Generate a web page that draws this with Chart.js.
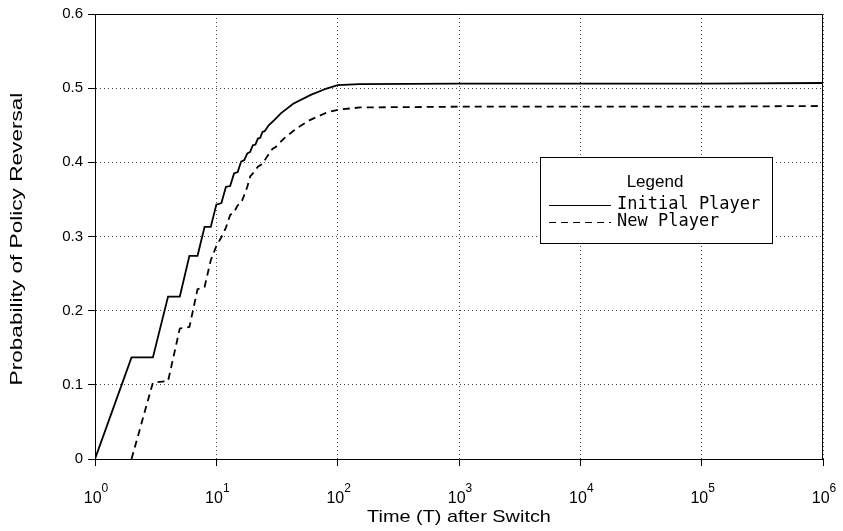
<!DOCTYPE html>
<html>
<head>
<meta charset="utf-8">
<script src="https://cdn.jsdelivr.net/npm/chart.js@4.4.0/dist/chart.umd.min.js"></script>
<style>
  html, body { margin: 0; padding: 0; background: #fff; }
</style>
</head>
<body>
<canvas id="chart" width="843" height="531"></canvas>
<script>
// values
const initialTime = [1, 2, 3, 4, 5, 6, 7, 8, 9, 10, 11, 12, 13, 14, 15, 16, 17, 18, 19, 20, 21, 22, 23, 24, 25, 27, 30, 34, 43, 60, 81, 100, 150, 1000, 10000, 100000, 1000000];
const initialProb = [0, 0.137, 0.137, 0.219, 0.219, 0.274, 0.274, 0.313, 0.313, 0.343, 0.345, 0.367, 0.368, 0.385, 0.387, 0.401, 0.403, 0.412, 0.414, 0.423, 0.424, 0.432, 0.433, 0.441, 0.442, 0.450, 0.457, 0.466, 0.479, 0.491, 0.4995, 0.504, 0.5055, 0.506, 0.506, 0.506, 0.507];

const newTime = [2, 3, 4, 5, 6, 7, 8, 9, 10, 11, 12, 13, 14, 15, 16, 17, 18, 19, 20, 22, 24, 26, 29, 31, 36, 46, 59, 81, 101, 153, 1000, 10000, 100000, 1000000];
const newProb = [0, 0.103, 0.105, 0.176, 0.178, 0.229, 0.232, 0.268, 0.287, 0.299, 0.312, 0.329, 0.333, 0.342, 0.345, 0.356, 0.367, 0.381, 0.385, 0.394, 0.398, 0.407, 0.418, 0.421, 0.432, 0.446, 0.457, 0.467, 0.471, 0.474, 0.475, 0.475, 0.475, 0.476];

const seriesNames = ["Initial Player", "New Player"];

const xTicks = [1, 10, 100, 1000, 10000, 100000, 1000000];
const xTickBase = "10";
const xTickExp = ["0", "1", "2", "3", "4", "5", "6"];
const yTicks = [0, 0.1, 0.2, 0.3, 0.4, 0.5, 0.6];
const yTickLabels = ["0", "0.1", "0.2", "0.3", "0.4", "0.5", "0.6"];

const xTitle = "Time (T) after Switch";
const yTitle = "Probability of Policy Reversal";
const legendTitle = "Legend";

const SANS = '"Liberation Sans", Arial, sans-serif';

function toPoints(xs, ys){
    return xs.map((x, i) => ({x: x, y: ys[i]}));
}

// box round the plot area, like the matlab frame
const frame = {
    id: "frame",
    afterDraw(chart){
        const {ctx, chartArea} = chart;
        ctx.save();
        ctx.strokeStyle = "#000";
        ctx.lineWidth = 1;
        ctx.beginPath();
        ctx.moveTo(chartArea.left, chartArea.top + 0.5);
        ctx.lineTo(chartArea.right - 0.5, chartArea.top + 0.5);
        ctx.lineTo(chartArea.right - 0.5, chartArea.bottom);
        ctx.stroke();
        ctx.restore();
    }
};

// 10^n tick labels and the two (wide) axis titles
const axisText = {
    id: "axisText",
    afterDraw(chart){
        const {ctx, chartArea} = chart;
        const xs = chart.scales.x;
        ctx.save();
        ctx.fillStyle = "#000";
        ctx.textBaseline = "alphabetic";
        ctx.textAlign = "left";
        xTicks.forEach((v, i) => {
            const px = xs.getPixelForValue(v);
            ctx.font = "16px " + SANS;
            const w1 = ctx.measureText(xTickBase).width;
            ctx.font = "12px " + SANS;
            const w2 = ctx.measureText(xTickExp[i]).width;
            const left = px - (w1 + w2) / 2 + 1;
            ctx.font = "16px " + SANS;
            ctx.fillText(xTickBase, left, 503);
            ctx.font = "12px " + SANS;
            ctx.fillText(xTickExp[i], left + w1, 492);
        });

        ctx.textAlign = "center";
        ctx.textBaseline = "middle";
        ctx.font = "17px " + SANS;

        ctx.save();
        ctx.translate((chartArea.left + chartArea.right) / 2, 517);
        ctx.scale(1.17, 1);
        ctx.fillText(xTitle, 0, 0);
        ctx.restore();

        ctx.save();
        ctx.translate(17, 239);
        ctx.rotate(-Math.PI / 2);
        ctx.scale(1.33, 1);
        ctx.fillText(yTitle, 0, 0);
        ctx.restore();

        ctx.restore();
    }
};

// boxed legend inside the plot
const legendBox = {
    id: "legendBox",
    afterDraw(chart){
        const ctx = chart.ctx;
        const bx = 540.5, by = 157.5, bw = 232, bh = 86;
        ctx.save();
        ctx.fillStyle = "#fff";
        ctx.fillRect(bx, by, bw, bh);
        ctx.strokeStyle = "#000";
        ctx.lineWidth = 1;
        ctx.strokeRect(bx, by, bw, bh);

        ctx.fillStyle = "#000";
        ctx.textBaseline = "middle";
        ctx.textAlign = "center";
        ctx.font = "17px " + SANS;
        ctx.fillText(legendTitle, 655, 182);

        const rows = [205, 222];
        ctx.textAlign = "left";
        ctx.font = '17px "DejaVu Sans Mono", monospace';
        chart.data.datasets.forEach((ds, i) => {
            ctx.beginPath();
            ctx.setLineDash(ds.borderDash || []);
            ctx.lineWidth = 1.2;
            ctx.moveTo(549, rows[i] + 0.5);
            ctx.lineTo(611, rows[i] + 0.5);
            ctx.stroke();
            ctx.setLineDash([]);
            ctx.fillText(ds.label, 617, rows[i]);
        });
        ctx.restore();
    }
};

new Chart(document.getElementById("chart"), {
    type: "line",
    data: {
        datasets: [{
            label: seriesNames[0],
            data: toPoints(initialTime, initialProb),
            borderColor: "#000",
            borderWidth: 1.8,
            pointRadius: 0,
            tension: 0,
            fill: false
        },
        {
            label: seriesNames[1],
            data: toPoints(newTime, newProb),
            borderColor: "#000",
            borderWidth: 1.8,
            borderDash: [7, 5],
            pointRadius: 0,
            tension: 0,
            fill: false
        }]
    },
    options: {
        responsive: false,
        animation: false,
        layout: {
            padding: {top: 14, right: 20, left: 0, bottom: 0}
        },
        plugins: {
            legend: {display: false},
            tooltip: {enabled: false}
        },
        scales: {
            x: {
                type: "logarithmic",
                min: 1,
                max: 1000000,
                afterBuildTicks: (axis) => {
                    axis.ticks = xTicks.map(v => ({value: v}));
                },
                afterFit: (axis) => { axis.height = 72; },
                ticks: {display: false},
                grid: {
                    color: "#444",
                    lineWidth: 1,
                    tickLength: 7,
                    tickColor: "#000"
                },
                border: {display: true, color: "#000", width: 1, dash: [1, 3]}
            },
            y: {
                min: 0,
                max: 0.6,
                afterBuildTicks: (axis) => {
                    axis.ticks = yTicks.map(v => ({value: v}));
                },
                afterFit: (axis) => { axis.width = 95; },
                ticks: {
                    color: "#000",
                    font: {family: SANS, size: 15},
                    padding: 5,
                    callback: (value) => yTickLabels[yTicks.indexOf(value)]
                },
                grid: {
                    color: "#444",
                    lineWidth: 1,
                    tickLength: 7,
                    tickColor: "#000"
                },
                border: {display: true, color: "#000", width: 1, dash: [1, 3]}
            }
        }
    },
    plugins: [frame, axisText, legendBox]
});
</script>
</body>
</html>
